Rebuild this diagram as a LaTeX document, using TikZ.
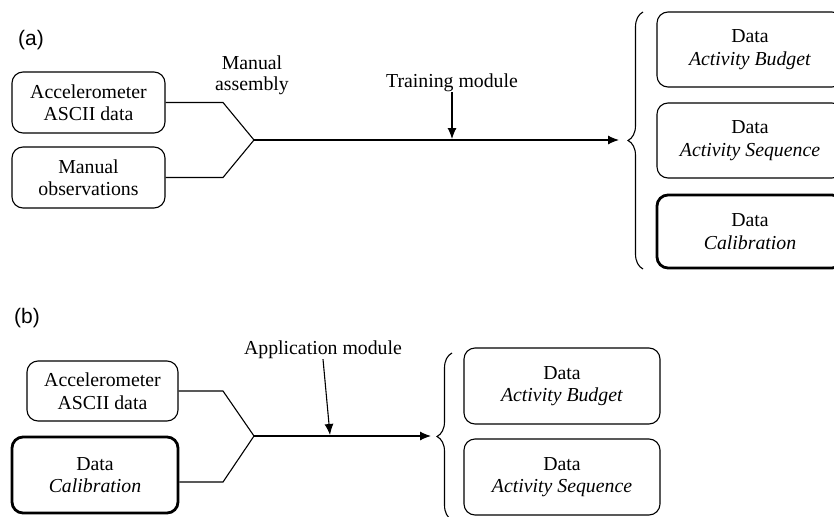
\documentclass[tikz,border=0pt]{standalone}
\usepackage{fontspec}
\setmainfont{Liberation Serif}
\setsansfont{Liberation Sans}
\usetikzlibrary{decorations.pathreplacing,arrows.meta}
\begin{document}
\begin{tikzpicture}[x=1pt,y=-1pt,
  box/.style={draw, rounded corners=11pt, line width=1.1pt, align=center, inner sep=0pt,
    font=\fontsize{19.8}{22.5}\selectfont},
  thickbox/.style={box, line width=2.8pt},
  lbl/.style={align=center, inner sep=0pt, font=\fontsize{19.8}{21}\selectfont},
  panel/.style={inner sep=0pt, font=\sffamily\fontsize{21}{24}\selectfont},
  conn/.style={line width=1.1pt},
  arr/.style={line width=1.1pt, -{Latex[length=11pt,width=9pt]}},
  brc/.style={line width=1.1pt, decorate, decoration={brace, amplitude=15pt}}]
\useasboundingbox (0,0) rectangle (834,516);
\clip (0,0) rectangle (834,516);

% ---------- (a) ----------
\node[panel] (pa) at (31,40) {(a)};
\node[box, minimum width=153pt, minimum height=61pt] (acc) at (88.5,102.5) {Accelerometer\\ASCII data};
\node[box, minimum width=153pt, minimum height=61pt] (man) at (88.5,177.5) {Manual\\observations};
\node[lbl] (asm) at (252,75) {Manual\\assembly};
\coordinate (ja) at (254,140);
\coordinate (ka1) at (223,102.5);
\coordinate (ka2) at (223,177.5);
\coordinate (ta) at (619,140);
\draw[conn] (acc.east) -- (ka1) -- (ja);
\draw[conn] (man.east) -- (ka2) -- (ja);
\draw[arr] (ja) -- (ta);
\node[lbl] (trn) at (452,83) {Training module};
\coordinate (tra) at (452,139);
\draw[arr] (trn.south) -- (tra);
\coordinate (bra1) at (643,269);
\coordinate (bra2) at (643,12);
\draw[brc] (bra1) -- (bra2);
\node[box, minimum width=186pt, minimum height=75pt] (ab) at (750,49.5) {Data\\\textit{Activity Budget}};
\node[box, minimum width=186pt, minimum height=75pt] (as) at (750,140.5) {Data\\\textit{Activity Sequence}};
\node[thickbox, minimum width=186pt, minimum height=73pt] (ac) at (750,231.5) {Data\\\textit{Calibration}};

% ---------- (b) ----------
\node[panel] (pb) at (27,318) {(b)};
\node[box, minimum width=151pt, minimum height=60pt] (acc2) at (102.5,391) {Accelerometer\\ASCII data};
\node[thickbox, minimum width=166pt, minimum height=76pt] (cal2) at (95,475) {Data\\\textit{Calibration}};
\coordinate (jb) at (254,436);
\coordinate (kb1) at (223,391);
\coordinate (kb2) at (223,482);
\coordinate (tb) at (431,436);
\draw[conn] (acc2.east) -- (kb1) -- (jb);
\draw[conn] (cal2.east |- kb2) -- (kb2) -- (jb);
\draw[arr] (jb) -- (tb);
\node[lbl] (app) at (323,350) {Application module};
\coordinate (apa) at (330,435);
\draw[arr] (app.south) -- (apa);
\coordinate (brb1) at (452,520);
\coordinate (brb2) at (452,353);
\draw[brc] (brb1) -- (brb2);
\node[box, minimum width=196pt, minimum height=76pt] (bb) at (562,386) {Data\\\textit{Activity Budget}};
\node[box, minimum width=196pt, minimum height=76pt] (bs) at (562,477) {Data\\\textit{Activity Sequence}};
\end{tikzpicture}
\end{document}
